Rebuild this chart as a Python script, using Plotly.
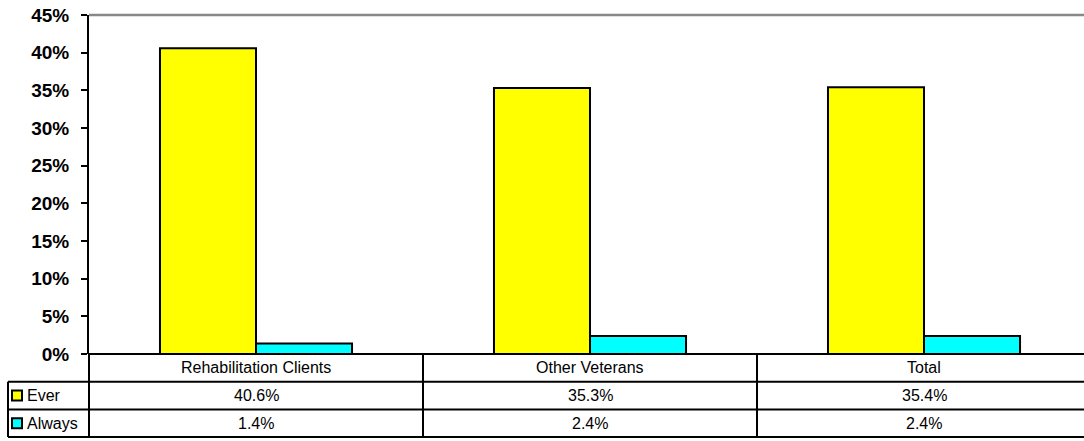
import plotly.graph_objects as go

categories = ["Rehabilitation Clients", "Other Veterans", "Total"]
ever = [0.406, 0.353, 0.354]
always = [0.014, 0.024, 0.024]
series_names = ["Ever", "Always"]
series_colors = ["#FFFF00", "#00FFFF"]
tick_vals = [0, 0.05, 0.10, 0.15, 0.20, 0.25, 0.30, 0.35, 0.40, 0.45]
tick_text = ["0%", "5%", "10%", "15%", "20%", "25%", "30%", "35%", "40%", "45%"]

W, H = 1084, 441
L, R, T, B = 89, 0, 15, 87
PW, PH = W - L - R, H - T - B
ROW = 27.7  # table row height in px

def py(px_from_bottom_of_plot):
    return -px_from_bottom_of_plot / PH

def px(xpix):
    return (xpix - L) / PW

fig = go.Figure()
for name, vals, col in zip(series_names, [ever, always], series_colors):
    fig.add_trace(go.Bar(x=list(range(len(categories))), y=vals, name=name,
                         marker=dict(color=col, line=dict(color="black", width=2)),
                         showlegend=False))

n = len(categories)
xmax = -0.5 + PW / 334.0

shapes = []
# top gray border
shapes.append(dict(type="line", xref="paper", yref="paper", x0=0, x1=1, y0=1, y1=1,
                   line=dict(color="#888888", width=2.5)))
# horizontal table lines
for k, x0 in [(0, 0), (1, px(8)), (2, px(8)), (3, px(8))]:
    shapes.append(dict(type="line", xref="paper", yref="paper", x0=x0, x1=1,
                       y0=py(k * ROW), y1=py(k * ROW), line=dict(color="black", width=2)))
# vertical lines
shapes.append(dict(type="line", xref="paper", yref="paper", x0=px(8), x1=px(8),
                   y0=py(ROW), y1=py(3 * ROW), line=dict(color="black", width=2)))
for i in range(n):
    shapes.append(dict(type="line", xref="x", yref="paper", x0=i + 0.5, x1=i + 0.5,
                       y0=0, y1=py(3 * ROW), line=dict(color="black", width=2)))
shapes.append(dict(type="line", xref="paper", yref="paper", x0=0, x1=0,
                   y0=0, y1=py(3 * ROW), line=dict(color="black", width=2)))
# legend keys
for r, col in enumerate(series_colors):
    yc = (r + 1.5) * ROW
    shapes.append(dict(type="rect", xref="paper", yref="paper", x0=px(12), x1=px(22),
                       y0=py(yc - 5), y1=py(yc + 5), fillcolor=col,
                       line=dict(color="black", width=2)))

annotations = []
font = dict(family="Liberation Sans, Arial", size=16, color="black")
for i, c in enumerate(categories):
    annotations.append(dict(x=i, y=py(0.5 * ROW), xref="x", yref="paper", text=c,
                            showarrow=False, font=font, xanchor="center", yanchor="middle"))
for r, (name, vals) in enumerate(zip(series_names, [ever, always])):
    yc = (r + 1.5) * ROW
    annotations.append(dict(x=px(25), y=py(yc), xref="paper", yref="paper", text=name,
                            showarrow=False, font=font, xanchor="left", yanchor="middle"))
    for i, v in enumerate(vals):
        annotations.append(dict(x=i, y=py(yc), xref="x", yref="paper", text=f"{v*100:.1f}%",
                                showarrow=False, font=font, xanchor="center", yanchor="middle"))

fig.update_layout(
    width=W, height=H,
    margin=dict(l=L, r=R, t=T, b=B, pad=0),
    paper_bgcolor="white", plot_bgcolor="white",
    barmode="group", bargap=0.425, bargroupgap=0,
    shapes=shapes, annotations=annotations,
    xaxis=dict(range=[-0.5, xmax], showticklabels=False, ticks="", showgrid=False,
               zeroline=False, showline=False, fixedrange=True),
    yaxis=dict(range=[0, 0.45], tickvals=tick_vals, ticktext=tick_text, showgrid=False,
               zeroline=False, showline=True, linecolor="black", linewidth=2,
               ticks="outside", ticklen=6, tickwidth=2, tickcolor="black",
               ticklabelstandoff=8,
               tickfont=dict(family="Liberation Sans, Arial", size=19, color="black",
                             weight="bold")),
)

fig.write_html("out.html")
